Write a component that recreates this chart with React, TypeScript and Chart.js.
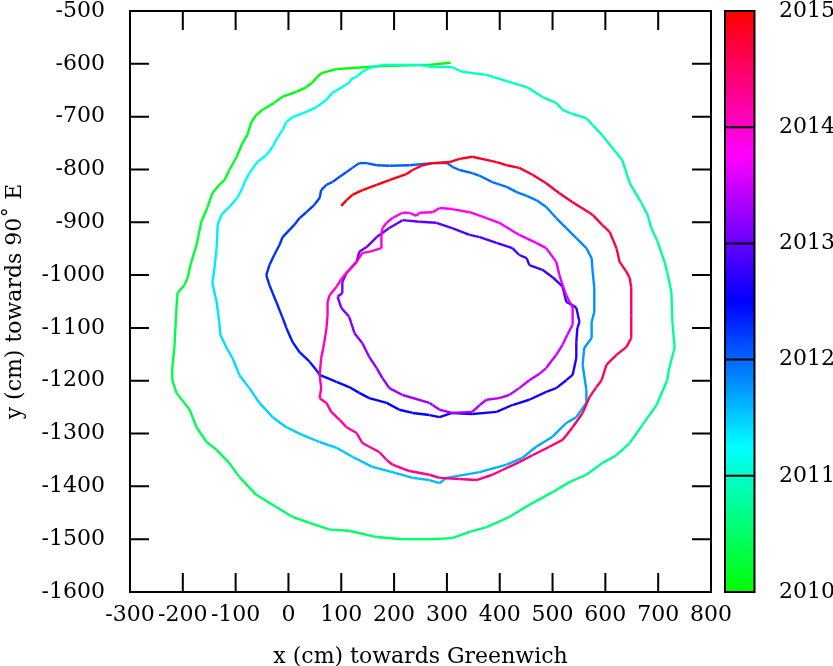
import { useEffect, useRef } from 'react';
import { Chart, registerables } from 'chart.js';

Chart.register(...registerables);

const FONT = '"DejaVu Serif", serif';

// Start year of each loop of the path, plus the final year
const loopYears = [2010.0, 2011.05, 2012.0, 2012.95, 2013.78, 2015.0];

const loopAX = [
  307, 267, 178, 91, 64, 55, 45, 34, 15, -11,
  -27, -49, -61, -70, -78, -87, -98, -112, -121, -131,
  -144, -153, -165, -174, -184, -191, -197, -210, -212, -214,
  -216, -220, -220, -212, -187, -174, -155, -136, -112, -93,
  -61, -23, 8, 40, 78, 115, 167, 216, 267, 310,
  343, 375, 418, 456, 500, 532, 564, 594, 621, 646,
  670, 697, 717, 721, 731, 727, 725, 717, 712, 699,
  687, 680, 668, 646, 632, 613, 594, 576, 564, 538,
  519, 507, 481, 451, 418, 375, 329, 309, 273, 248,
];
const loopAY = [
  -598, -602, -604, -610, -617, -624, -636, -644, -653, -662,
  -674, -687, -697, -710, -735, -750, -776, -801, -820, -829,
  -845, -871, -899, -943, -975, -1005, -1019, -1034, -1062, -1100,
  -1138, -1176, -1199, -1223, -1255, -1288, -1316, -1331, -1356, -1382,
  -1416, -1439, -1458, -1469, -1482, -1484, -1496, -1500, -1500, -1498,
  -1486, -1477, -1458, -1435, -1411, -1392, -1378, -1356, -1341, -1318,
  -1284, -1246, -1199, -1176, -1138, -1089, -1032, -994, -975, -937,
  -911, -886, -863, -826, -782, -759, -735, -716, -703, -695,
  -687, -674, -663, -644, -634, -621, -615, -606, -606, -602,
];

const loopBX = [
  178, 153, 140, 131, 119, 115, 102, 83, 72, 53,
  34, 8, -4, -11, -21, -30, -42, -59, -74, -83,
  -87, -97, -112, -127, -134, -136, -140, -144, -136, -131,
  -129, -117, -106, -93, -74, -55, -30, -4, 27, 59,
  91, 121, 159, 204, 235, 267, 286, 299, 310, 362,
  413, 443, 469, 500, 526, 545, 564, 564, 557, 560,
  574, 574, 579, 579, 576, 574, 564, 545, 526, 507,
  488, 469, 451, 432, 413, 386, 362, 348, 324, 310,
  301,
];
const loopBY = [
  -602, -608, -615, -623, -629, -636, -644, -655, -668, -682,
  -691, -701, -710, -725, -740, -757, -773, -786, -807, -824,
  -835, -854, -871, -886, -905, -949, -987, -1015, -1051, -1089,
  -1113, -1138, -1157, -1189, -1214, -1242, -1269, -1288, -1303, -1316,
  -1327, -1344, -1363, -1375, -1384, -1388, -1394, -1384, -1382, -1373,
  -1359, -1346, -1325, -1306, -1280, -1269, -1242, -1217, -1170, -1138,
  -1119, -1089, -1070, -1024, -994, -968, -949, -930, -911, -892,
  -871, -858, -850, -843, -833, -824, -812, -807, -801, -795,
  -788,
];

const loopCX = [
  273, 229, 191, 167, 148, 134, 121, 110, 97, 83,
  72, 62, 59, 49, 34, 21, 11, -11, -17, -27,
  -36, -42, -36, -23, -11, -4, 8, 21, 40, 53,
  59, 91, 115, 134, 153, 186, 210, 235, 267, 286,
  310, 348, 394, 424, 456, 488, 507, 526, 538, 545,
  545, 547, 551, 545, 538, 526, 519, 500, 481, 456,
  451, 437, 424, 394, 362, 343, 310, 280,
];
const loopCY = [
  -788, -792, -793, -792, -788, -788, -797, -805, -814, -824,
  -829, -839, -854, -867, -881, -892, -905, -928, -943, -962,
  -981, -1000, -1019, -1051, -1081, -1100, -1127, -1146, -1164, -1180,
  -1189, -1202, -1212, -1223, -1233, -1242, -1255, -1261, -1265, -1269,
  -1261, -1263, -1259, -1246, -1236, -1221, -1214, -1199, -1189, -1157,
  -1127, -1100, -1089, -1062, -1057, -1051, -1022, -1004, -990, -981,
  -968, -962, -949, -939, -928, -924, -911, -901,
];

const loopDX = [
  248, 216, 191, 167, 148, 134, 129, 110, 102, 102,
  93, 100, 115, 125, 140, 153, 167, 178, 191, 216,
  267, 273, 286, 310, 348, 362, 375, 399, 418, 437,
  456, 475, 488, 507, 519, 528, 538, 538, 526, 519,
  513, 507, 488, 469, 437, 399, 375, 343, 310,
];
const loopDY = [
  -899, -896, -911, -928, -947, -956, -975, -996, -1013, -1034,
  -1041, -1062, -1079, -1110, -1129, -1155, -1176, -1195, -1214, -1227,
  -1242, -1246, -1255, -1261, -1259, -1246, -1236, -1233, -1227, -1214,
  -1199, -1187, -1176, -1151, -1132, -1113, -1094, -1062, -1038, -1019,
  -1000, -975, -949, -939, -924, -901, -892, -881, -875,
];

const loopEX = [
  286, 273, 248, 242, 229, 216, 197, 186, 178, 176,
  176, 153, 140, 129, 115, 102, 91, 78, 74, 74,
  72, 68, 62, 59, 62, 59, 72, 81, 97, 110,
  129, 140, 153, 172, 186, 197, 229, 267, 286, 324,
  356, 386, 405, 437, 462, 494, 519, 538, 557, 570,
  583, 593, 602, 621, 640, 649, 649, 649, 646, 640,
  627, 621, 608, 594, 576, 570, 538, 513, 488, 462,
  437, 413, 394, 348, 324, 305, 273, 254, 235, 223,
  191, 167, 140, 121, 110, 100,
];
const loopEY = [
  -873, -881, -882, -888, -882, -882, -892, -901, -911, -924,
  -949, -956, -958, -975, -990, -1005, -1022, -1038, -1051, -1076,
  -1100, -1127, -1157, -1189, -1214, -1233, -1242, -1259, -1274, -1288,
  -1299, -1318, -1325, -1335, -1350, -1359, -1371, -1378, -1384, -1386,
  -1388, -1378, -1369, -1354, -1341, -1325, -1312, -1288, -1261, -1231,
  -1212, -1199, -1170, -1151, -1136, -1119, -1076, -1024, -1005, -994,
  -975, -949, -918, -905, -886, -882, -862, -845, -826, -810,
  -797, -792, -786, -776, -780, -786, -788, -792, -801, -809,
  -820, -829, -839, -848, -858, -869,
];

const xTicks = [-300, 800, 100];
const yTicks = [-1600, -500, 100];
const yearTicks = [2010, 2015, 1];

const loopsX = [loopAX, loopBX, loopCX, loopDX, loopEX];
const loopsY = [loopAY, loopBY, loopCY, loopDY, loopEY];

function hueColor(year: number): string {
  const h = 120 + 48 * (year - 2010);
  return `hsl(${h}, 100%, 50%)`;
}

const points: { x: number; y: number }[] = [];
const pointYear: number[] = [];
loopsX.forEach((lx, k) => {
  const n = lx.length;
  lx.forEach((x, i) => {
    points.push({ x, y: loopsY[k][i] });
    pointYear.push(loopYears[k] + ((loopYears[k + 1] - loopYears[k]) * i) / n);
  });
});

const tickFont = { family: FONT, size: 22, lineHeight: 1 };

const framePlugin = {
  id: 'frameAndColorbar',
  afterDraw(chart: any) {
    const { ctx, chartArea: a, scales } = chart;
    ctx.save();
    ctx.strokeStyle = '#000';
    ctx.lineWidth = 2;
    const L = 19;
    ctx.beginPath();
    scales.x.ticks.forEach((t: any) => {
      const px = scales.x.getPixelForValue(t.value);
      if (px <= a.left + 1 || px >= a.right - 1) return;
      ctx.moveTo(px, a.bottom);
      ctx.lineTo(px, a.bottom - L);
      ctx.moveTo(px, a.top);
      ctx.lineTo(px, a.top + L);
    });
    scales.y.ticks.forEach((t: any) => {
      const py = scales.y.getPixelForValue(t.value);
      if (py <= a.top + 1 || py >= a.bottom - 1) return;
      ctx.moveTo(a.left, py);
      ctx.lineTo(a.left + L, py);
      ctx.moveTo(a.right, py);
      ctx.lineTo(a.right - L, py);
    });
    ctx.stroke();
    ctx.strokeRect(a.left, a.top, a.right - a.left, a.bottom - a.top);

    // colour bar
    const cb = scales.cb;
    const top = cb.getPixelForValue(cb.max);
    const bottom = cb.getPixelForValue(cb.min);
    const x0 = a.right + 14;
    const w = 29.5;
    const g = ctx.createLinearGradient(0, bottom, 0, top);
    for (let i = 0; i <= 60; i++) {
      const f = i / 60;
      g.addColorStop(f, hueColor(cb.min + (cb.max - cb.min) * f));
    }
    ctx.fillStyle = g;
    ctx.fillRect(x0, top, w, bottom - top);
    ctx.beginPath();
    cb.ticks.forEach((t: any) => {
      if (t.value <= cb.min || t.value >= cb.max) return;
      const py = cb.getPixelForValue(t.value);
      ctx.moveTo(x0, py);
      ctx.lineTo(x0 + w, py);
    });
    ctx.stroke();
    ctx.strokeRect(x0, top, w, bottom - top);
    ctx.restore();
  },
};

export default function App() {
  const ref = useRef<HTMLCanvasElement>(null);
  useEffect(() => {
    if (!ref.current) return;
    const chart = new Chart(ref.current, {
      type: 'scatter',
      data: {
        datasets: [
          {
            data: points,
            showLine: true,
            pointRadius: 0,
            borderWidth: 2.4,
            borderColor: '#00ff00',
            tension: 0,
            segment: {
              borderColor: (c: any) =>
                hueColor((pointYear[c.p0DataIndex] + pointYear[c.p1DataIndex]) / 2),
            },
          } as any,
        ],
      },
      options: {
        animation: false,
        responsive: false,
        maintainAspectRatio: false,
        layout: { padding: { top: 11, left: 0, right: 0, bottom: 0 } },
        plugins: { legend: { display: false }, tooltip: { enabled: false } },
        scales: {
          x: {
            type: 'linear',
            position: 'bottom',
            min: xTicks[0],
            max: xTicks[1],
            ticks: {
              stepSize: xTicks[2],
              color: '#000',
              font: tickFont,
              padding: 12,
              maxRotation: 0,
              autoSkip: false,
              callback: (v: any) => String(v),
            },
            grid: { display: false, drawTicks: false },
            border: { display: false },
            title: {
              display: true,
              text: 'x (cm) towards Greenwich',
              color: '#000',
              font: tickFont,
              padding: { top: 0, bottom: -2 },
            },
            afterFit: (s: any) => {
              s.height = 74;
              s.paddingLeft = 0;
              s.paddingRight = 0;
            },
          },
          y: {
            type: 'linear',
            position: 'left',
            min: yTicks[0],
            max: yTicks[1],
            ticks: {
              stepSize: yTicks[2],
              color: '#000',
              font: tickFont,
              padding: 25,
              autoSkip: false,
              callback: (v: any) => String(v),
            },
            grid: { display: false, drawTicks: false },
            border: { display: false },
            title: {
              display: true,
              text: 'y (cm) towards 90˚ E',
              color: '#000',
              font: tickFont,
              padding: { top: 4, bottom: 0 },
            },
            afterFit: (s: any) => {
              s.width = 130;
              s.paddingTop = 0;
              s.paddingBottom = 0;
            },
          },
          cb: {
            type: 'linear',
            axis: 'y',
            position: 'right',
            min: yearTicks[0],
            max: yearTicks[1],
            ticks: {
              stepSize: yearTicks[2],
              color: '#000',
              font: tickFont,
              padding: 68,
              autoSkip: false,
              callback: (v: any) => String(v),
            },
            grid: { display: false, drawTicks: false },
            border: { display: false },
            afterFit: (s: any) => {
              s.width = 122;
              s.paddingTop = 0;
              s.paddingBottom = 0;
            },
          },
        } as any,
      },
      plugins: [framePlugin],
    });
    return () => chart.destroy();
  }, []);
  return (
    <div style={{ position: 'absolute', left: 0, top: 0, width: 833, height: 666, background: '#fff' }}>
      <canvas ref={ref} width={833} height={666} style={{ display: 'block' }} />
    </div>
  );
}
